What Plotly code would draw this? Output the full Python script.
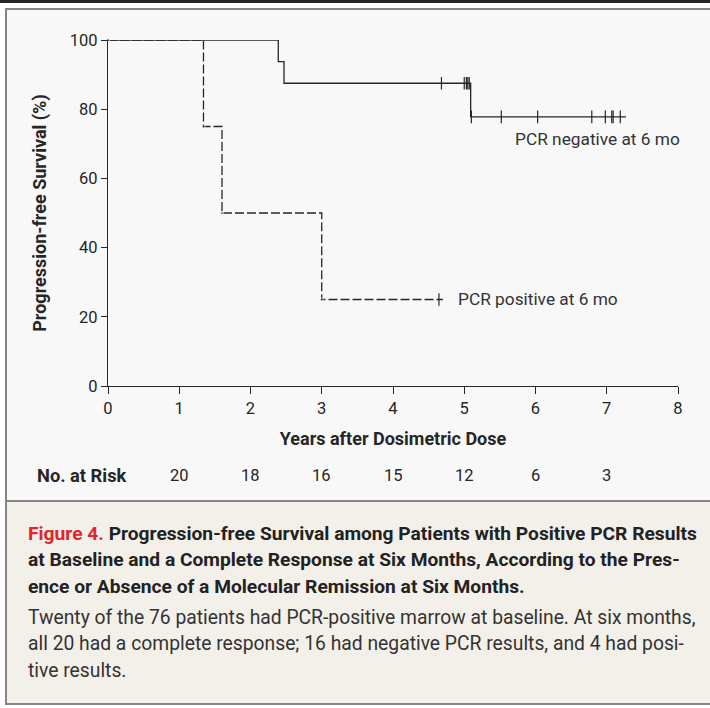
import plotly.graph_objects as go

# ---------------- data ----------------
pos_time = [0, 1.34, 1.60, 3.00, 4.70]
pos_surv = [100, 75, 50, 25, 25]
pos_censor = [4.645]

neg_time = [0, 2.39, 2.47, 5.09, 7.27]
neg_surv = [100, 93.75, 87.5, 77.78, 77.78]
neg_censor = [4.68, 5.00, 5.03, 5.05, 5.07, 5.10, 5.52, 6.03, 6.79, 6.98, 7.07, 7.09, 7.19]

x_ticks = [0, 1, 2, 3, 4, 5, 6, 7, 8]
y_ticks = [0, 20, 40, 60, 80, 100]

risk_years = [1, 2, 3, 4, 5, 6, 7]
risk_counts = [20, 18, 16, 15, 12, 6, 3]

label_neg = "PCR negative at 6 mo"
label_pos = "PCR positive at 6 mo"

caption_title = [
    "<span style='color:#e3242b'>Figure 4.</span> Progression-free Survival among Patients with Positive PCR Results",
    "at Baseline and a Complete Response at Six Months, According to the Pres-",
    "ence or Absence of a Molecular Remission at Six Months.",
]
caption_body = [
    "Twenty of the 76 patients had PCR-positive marrow at baseline. At six months,",
    "all 20 had a complete response; 16 had negative PCR results, and 4 had posi-",
    "tive results.",
]

# ---------------- layout geometry ----------------
W, H = 710, 708
L, R, T, B = 108, 678, 40, 386
PW, PH = R - L, B - T


def px(x):
    return (x - L) / PW


def py(y):
    return (B - y) / PH


def step_value(times, surv, t):
    v = surv[0]
    for ti, si in zip(times, surv):
        if ti <= t:
            v = si
    return v


INK = "#262626"
FONT = "Roboto"

fig = go.Figure()

fig.add_trace(go.Scatter(
    x=neg_time, y=neg_surv, mode="lines", line=dict(shape="hv", color=INK, width=1.3),
    cliponaxis=False, showlegend=False, hoverinfo="skip"))
fig.add_trace(go.Scatter(
    x=neg_censor, y=[step_value(neg_time, neg_surv, t) for t in neg_censor], mode="markers",
    marker=dict(symbol="line-ns", size=9, line=dict(color=INK, width=1.2)),
    cliponaxis=False, showlegend=False, hoverinfo="skip"))

fig.add_trace(go.Scatter(
    x=pos_time, y=pos_surv, mode="lines+markers",
    line=dict(shape="hv", color=INK, width=1.3, dash="9px,3px"),
    marker=dict(size=[3, 3, 3, 3, 0], color=INK),
    cliponaxis=False, showlegend=False, hoverinfo="skip"))
fig.add_trace(go.Scatter(
    x=pos_censor, y=[step_value(pos_time, pos_surv, t) for t in pos_censor], mode="markers",
    marker=dict(symbol="line-ns", size=9, line=dict(color=INK, width=1.2)),
    cliponaxis=False, showlegend=False, hoverinfo="skip"))

# frame shapes
shapes = [
    dict(type="rect", xref="paper", yref="paper", x0=px(0), x1=px(W + 5), y0=py(0), y1=py(3),
         fillcolor="#262626", line=dict(width=0), layer="below"),
    dict(type="rect", xref="paper", yref="paper", x0=px(6), x1=px(W + 5), y0=py(9), y1=py(704),
         fillcolor="#f8f8f8", line=dict(color="#858585", width=2), layer="below"),
    dict(type="rect", xref="paper", yref="paper", x0=px(6), x1=px(W + 5), y0=py(501), y1=py(704),
         fillcolor="#f3efe9", line=dict(color="#858585", width=2), layer="below"),
]

annotations = []
# curve labels
annotations.append(dict(x=5.684, y=71.4, xref="x", yref="y", text=label_neg, showarrow=False,
                        xanchor="left", yanchor="middle", font=dict(family=FONT, size=17.3, color="#333")))
annotations.append(dict(x=4.884, y=25.1, xref="x", yref="y", text=label_pos, showarrow=False,
                        xanchor="left", yanchor="middle", font=dict(family=FONT, size=17.3, color="#333")))
# number at risk
annotations.append(dict(x=px(35), y=py(475), xref="paper", yref="paper", text="<b>No. at Risk</b>",
                        showarrow=False, xanchor="left", yanchor="middle",
                        font=dict(family=FONT, size=18.3, color=INK)))
for yr, n in zip(risk_years, risk_counts):
    annotations.append(dict(x=yr, y=py(475), xref="x", yref="paper", text=str(n), showarrow=False,
                            xanchor="center", yanchor="middle",
                            font=dict(family=FONT, size=16.5, color=INK)))
# caption
for i, line in enumerate(caption_title):
    annotations.append(dict(x=px(26), y=py(533 + 26.5 * i), xref="paper", yref="paper",
                            text="<b>" + line + "</b>", showarrow=False, xanchor="left",
                            yanchor="middle", font=dict(family=FONT, size=19.2, color="#222")))
for i, line in enumerate(caption_body):
    annotations.append(dict(x=px(26), y=py(617 + 26.5 * i), xref="paper", yref="paper",
                            text=line, showarrow=False, xanchor="left",
                            yanchor="middle", font=dict(family=FONT, size=19.3, color="#333")))

axis_common = dict(showline=True, linecolor=INK, linewidth=1.3, ticks="outside", tickcolor=INK,
                   tickwidth=1.3, showgrid=False, zeroline=False,
                   tickfont=dict(family=FONT, size=16.5, color=INK))

fig.update_layout(
    width=W, height=H,
    margin=dict(l=L, r=W - R, t=T, b=H - B, pad=0),
    paper_bgcolor="white", plot_bgcolor="rgba(0,0,0,0)",
    shapes=shapes, annotations=annotations, showlegend=False,
    xaxis=dict(range=[0, 8], tickvals=x_ticks, ticklen=7,
               title=dict(text="<b>Years after Dosimetric Dose</b>", standoff=15,
                          font=dict(family=FONT, size=18, color=INK)), **axis_common),
    yaxis=dict(range=[0, 100], tickvals=y_ticks, ticklen=6,
               title=dict(text="<b>Progression-free Survival (%)</b>", standoff=18,
                          font=dict(family=FONT, size=18, color=INK)), **axis_common),
)

fig.write_html("out.html", config={"displayModeBar": False},
               post_script="document.body.style.margin='0';document.body.style.padding='0';")
